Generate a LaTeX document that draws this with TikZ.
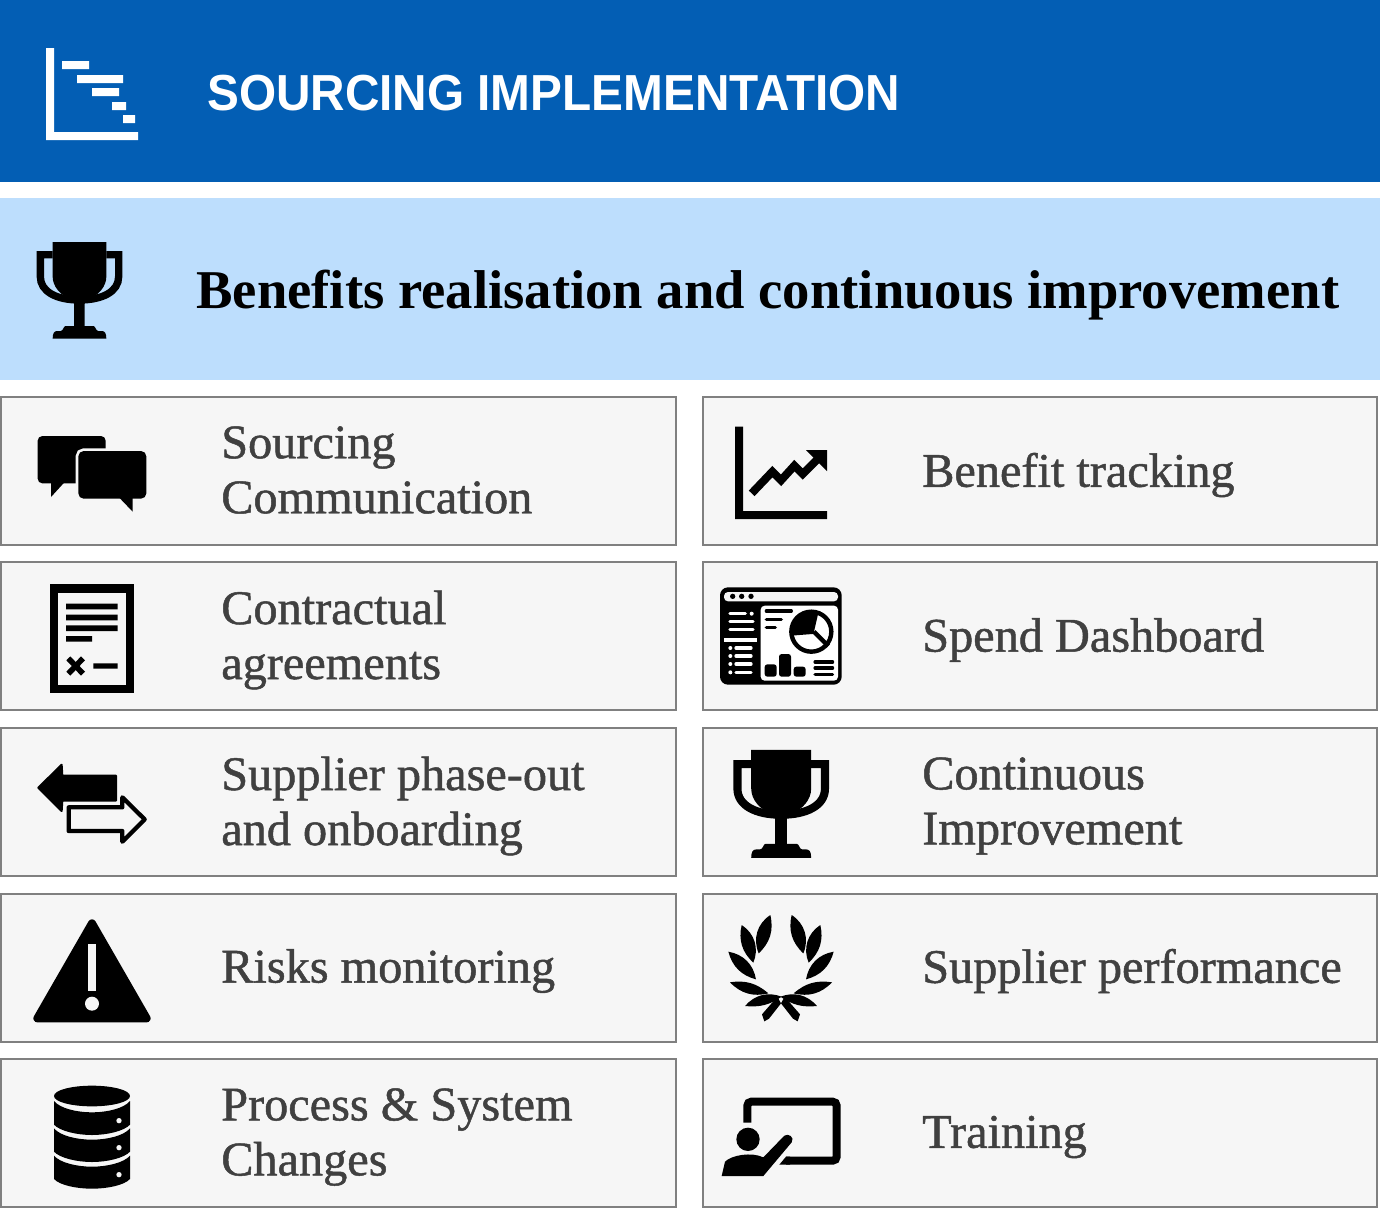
\documentclass[tikz,border=0pt]{standalone}
\usepackage{fontspec}
\setmainfont{Liberation Serif}
\newfontfamily\titlefont[FakeStretch=0.942]{Liberation Sans Bold}
\newfontfamily\bandfont{Liberation Serif Bold}
\newfontfamily\itemfont[FakeBold=1]{Liberation Serif}
\definecolor{headblue}{HTML}{035EB4}
\definecolor{bandblue}{HTML}{BDDEFD}
\definecolor{cardbg}{HTML}{F6F6F6}
\definecolor{cardline}{HTML}{808080}
\definecolor{itemtext}{HTML}{404040}
\tikzset{
  icon/.style={shift={#1},scale=0.33333},
  cardtext/.style={anchor=west,inner sep=0pt,align=left,text=itemtext,font=\itemfont\fontsize{36.2}{41.25}\selectfont},
  card/.style={draw=cardline,line width=1pt,fill=cardbg},
  bar/.style={line width=2.5pt,line cap=round,draw=black},
  wbar/.style={line width=2.5pt,line cap=round,draw=white},
}
\newcommand{\cardbox}[3]{\path[card] (#1,#2) rectangle ++(#3,148);}
\newcommand{\trophyicon}[1]{%
  \draw[line width=#1] (158,704) -- (121,704) -- (121,770) .. controls (121,815) and (170,840) .. (238,840) .. controls (307,840) and (356,815) .. (356,770) -- (356,704) -- (319,704);
  \fill (158,666) -- (319,666) -- (319,770) .. controls (319,800) and (295,825) .. (270,835) -- (254,850) -- (254,918) -- (280,918) .. controls (287,918) and (287,933) .. (295,933) -- (305,933) .. controls (315,933) and (319,940) .. (319,956) -- (158,956) .. controls (158,940) and (162,933) .. (172,933) -- (182,933) .. controls (190,933) and (190,918) .. (197,918) -- (222,918) -- (222,850) -- (207,835) .. controls (182,825) and (158,800) .. (158,770) -- cycle;}
\begin{document}
\begin{tikzpicture}[x=0.75pt,y=-0.75pt]
\useasboundingbox (0,0) rectangle (1387,1215);
\fill[white] (0,0) rectangle (1387,1215);
% header
\fill[headblue] (0,0) rectangle (1380,182);
\fill[bandblue] (0,198) rectangle (1380,380);
% gantt
\fill[white] (46,48) -- (54,48) -- (54,132) -- (138,132) -- (138,140) -- (46,140) -- cycle;
\fill[white] (62,61) rectangle (89,69) (77,75) rectangle (123,83) (92,88) rectangle (119,96) (112,102) rectangle (126,110) (123,115) rectangle (135,123);
\node[anchor=base west,inner sep=0pt,text=white,font=\titlefont\fontsize{38}{40}\selectfont] (title) at (207,110.5) {SOURCING IMPLEMENTATION};
\begin{scope}[icon={(0,20)}] \trophyicon{5.5pt} \end{scope}
\node[anchor=base west,inner sep=0pt,text=black,font=\bandfont\fontsize{41}{45}\selectfont] (band) at (196,308) {Benefits realisation and continuous improvement};
% cards
\cardbox{1}{397}{675}\cardbox{1}{562}{675}\cardbox{1}{728}{675}\cardbox{1}{894}{675}\cardbox{1}{1059}{675}
\cardbox{703}{397}{674}\cardbox{703}{562}{674}\cardbox{703}{728}{674}\cardbox{703}{894}{674}\cardbox{703}{1059}{674}
\node[cardtext] (t1) at (221,470) {Sourcing\\Communication};
\node[cardtext] (t2) at (221,640) {Contractual\\agreements};
\node[cardtext] (t3) at (221,806) {Supplier phase-out\\and onboarding};
\node[cardtext] (t4) at (221,971) {Risks monitoring};
\node[cardtext] (t5) at (221,1137) {Process \& System\\Changes};
\node[cardtext] (t6) at (922,475) {Benefit tracking};
\node[cardtext] (t7) at (922,640) {Spend Dashboard};
\node[cardtext] (t8) at (922,806) {Continuous\\Improvement};
\node[cardtext] (t9) at (922,971) {Supplier performance};
\node[cardtext] (t10) at (922,1137) {Training};
% bubbles
\begin{scope}[icon={(0,400)}]
  \fill[rounded corners=3.5pt] (113,108) -- (317,108) -- (317,250) -- (113,250) -- cycle;
  \fill (153,245) -- (153,291) -- (195,245) -- cycle;
  \draw[draw=cardbg,line width=4pt,fill=cardbg,rounded corners=4pt] (235,153) -- (439,153) -- (439,296) -- (235,296) -- cycle;
  \fill[cardbg] (317,138) rectangle (330,150);
  \fill[rounded corners=4pt] (235,153) -- (439,153) -- (439,296) -- (235,296) -- cycle;
  \fill (355,290) -- (398,335) -- (398,290) -- cycle;
\end{scope}
% contract
\begin{scope}[icon={(0,400)}]
  \draw[line width=6.2pt] (162.5,565.5) rectangle (389.5,867.5);
  \fill (198,611) rectangle (353,628) (198,644) rectangle (353,661) (198,676) rectangle (353,693) (198,708) rectangle (276,725) (280,790) rectangle (353,806);
  \draw[line width=4.2pt] (205,775) -- (249,821) (249,775) -- (205,821);
\end{scope}
% arrows
\begin{scope}[icon={(0,730)}]
  \filldraw[line width=1.5pt,line join=round] (115,173) -- (185,104) -- (187,137) -- (348,137) -- (348,212) -- (187,212) -- (185,243) -- cycle;
  \draw[line width=3.2pt,line join=round] (206,232) -- (367,232) -- (367,202) -- (434,268) -- (367,335) -- (367,303) -- (206,303) -- cycle;
\end{scope}
% warning
\begin{scope}[icon={(0,730)}]
  \filldraw[line width=6pt,line join=round] (276,580) -- (112,865) -- (440,865) -- cycle;
  \fill[cardbg] (264,642) rectangle (288,784);
  \fill[cardbg] (276,821) circle[radius=21];
\end{scope}
% database
\begin{scope}[icon={(0,730)}]
  \fill (276,1098) ellipse[x radius=114,y radius=31];
  \fill (162,1113) .. controls (180,1135) and (230,1147) .. (276,1147) .. controls (322,1147) and (372,1135) .. (390,1113) -- (390,1184) .. controls (372,1203) and (322,1215) .. (276,1215) .. controls (230,1215) and (180,1203) .. (162,1184) -- cycle;
  \fill (162,1195) .. controls (180,1217) and (230,1229) .. (276,1229) .. controls (322,1229) and (372,1217) .. (390,1195) -- (390,1265) .. controls (372,1284) and (322,1296) .. (276,1296) .. controls (230,1296) and (180,1284) .. (162,1265) -- cycle;
  \fill (162,1277) .. controls (180,1298) and (230,1310) .. (276,1310) .. controls (322,1310) and (372,1298) .. (390,1277) -- (390,1347) .. controls (372,1366) and (322,1376) .. (276,1376) .. controls (230,1376) and (180,1366) .. (162,1347) -- cycle;
  \fill[cardbg] (357,1172) circle[radius=8] (357,1253) circle[radius=8] (357,1334) circle[radius=8];
\end{scope}
% chart
\begin{scope}[icon={(700,400)}]
  \fill (105,80) -- (129,80) -- (129,333) -- (381,333) -- (381,357) -- (105,357) -- cycle;
  \draw[line width=6pt,line join=miter] (155,280) -- (217,215) -- (243,241) -- (283,197) -- (308,222) -- (358,172);
  \fill (318,150) -- (381,150) -- (381,213) -- cycle;
\end{scope}
% dashboard
\begin{scope}[icon={(700,400)}]
  \fill[rounded corners=6pt] (60,562) rectangle (425,854);
  \fill[cardbg,rounded corners=3pt] (72,576) rectangle (414,604);
  \fill (98,589) circle[radius=8] (125,589) circle[radius=8] (153,589) circle[radius=8];
  \fill[white,rounded corners=3pt] (182,617) -- (414,617) -- (414,842) -- (182,842) -- cycle;
  \draw[wbar] (90,641) -- (136,641) (90,665) -- (159,665) (90,689) -- (159,689);
  \fill[white] (155,641) circle[radius=6];
  \fill[white] (72,714) rectangle (171,726);
  \fill[white] (91,744) circle[radius=6] (91,768) circle[radius=6] (91,792) circle[radius=6] (91,817) circle[radius=6];
  \draw[wbar] (108,744) -- (153,744) (108,768) -- (153,768) (108,792) -- (153,792) (108,817) -- (153,817);
  \draw[bar] (199,633) -- (274,633) (199,658) -- (244,658) (199,683) -- (226,683);
  \draw[line width=3.3pt] (334,695) circle[radius=60];
  \fill (342,695) -- (278,700) arc[start angle=175,end angle=285,radius=62] -- cycle;
  \draw[line width=3.3pt] (342,695) -- (385,738) (342,695) -- (278,700);
  \fill[rounded corners=2pt] (194,793) rectangle (230,830) (237,762) rectangle (273,830) (281,800) rectangle (317,830);
  \draw[line width=2.3pt,line cap=round] (345,786) -- (398,786) (345,804) -- (398,804) (345,823) -- (398,823);
\end{scope}
% second trophy
\begin{scope}[shift={(692.4,502)},scale=0.3723] \trophyicon{6.1pt} \end{scope}
% laurel
\begin{scope}[icon={(700,730)}]
  \foreach \m/\o in {1/0,-1/486}{
  \begin{scope}[shift={(\o,0)},xscale=\m]
    \fill (211,555) to[bend right=40] (176,670) to[bend right=30] (211,555);
    \fill (125,585) to[bend right=30] (160,698) to[bend right=40] (125,585);
    \fill (85,665) to[bend right=30] (168,748) to[bend right=35] (85,665);
    \fill (90,757) to[bend right=30] (205,790) to[bend right=25] (90,757);
    \fill (135,828) to[bend left=35] (245,800) to[bend left=20] (135,828);
    \fill (232,800) -- (186,853) -- (193,874) -- (207,866) -- (243,820) -- cycle;
  \end{scope}}
\end{scope}
% trainer
\begin{scope}[icon={(700,730)}]
  \draw[line width=6pt,rounded corners=3pt] (142,1178) -- (142,1115) -- (410,1115) -- (410,1292) -- (258,1292);
  \fill (238,1304) -- (258,1280) -- (270,1280) -- (270,1304) -- cycle;
  \fill (144,1228) circle[radius=35];
  \fill (65,1338) -- (75,1295) .. controls (95,1275) and (155,1265) .. (190,1282) -- (253,1217) .. controls (265,1208) and (285,1222) .. (275,1237) -- (190,1338) -- cycle;
\end{scope}
\end{tikzpicture}
\end{document}
